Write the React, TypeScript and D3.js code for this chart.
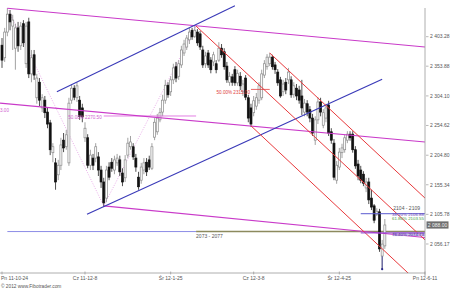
import React from "react";
import * as d3 from "d3";

// Daily OHLC, one entry per session
const opens = [2389,2368,2411,2441,2421,2384,2418,2388,2425,2358,2428,2341,2373,2301,2327,2284,2297,2277,2259,2209,2192,2172,2188,2230,2219,2192,2297,2317,2301,2297,2284,2234,2234,2188,2200,2200,2202,2180,2160,2133,2185,2193,2180,2192,2197,2175,2167,2205,2219,2219,2200,2168,2163,2180,2193,2197,2183,2235,2244,2264,2277,2297,2322,2311,2331,2353,2337,2356,2376,2386,2398,2414,2404,2411,2408,2381,2358,2376,2364,2361,2358,2364,2384,2378,2354,2327,2336,2348,2326,2337,2311,2334,2301,2284,2276,2287,2297,2301,2339,2353,2358,2369,2356,2344,2331,2311,2327,2331,2331,2307,2317,2314,2304,2277,2291,2281,2267,2230,2264,2294,2255,2267,2289,2244,2225,2163,2185,2209,2214,2230,2240,2240,2214,2190,2180,2173,2150,2160,2133,2120,2106,2110,2036,2053];
const highs = [2401,2418,2451,2448,2440,2425,2428,2428,2431,2428,2435,2381,2381,2341,2334,2307,2304,2284,2264,2225,2200,2197,2234,2242,2247,2301,2324,2322,2327,2304,2291,2260,2240,2214,2207,2225,2210,2187,2167,2187,2193,2200,2204,2207,2204,2183,2205,2234,2237,2225,2207,2177,2192,2200,2200,2204,2225,2267,2274,2284,2306,2331,2327,2337,2358,2361,2364,2388,2398,2406,2418,2418,2421,2416,2413,2388,2378,2381,2369,2378,2364,2394,2391,2384,2361,2344,2341,2354,2348,2344,2331,2339,2306,2291,2304,2309,2327,2348,2364,2374,2376,2373,2361,2349,2336,2331,2334,2351,2337,2327,2324,2321,2331,2299,2297,2287,2274,2270,2302,2301,2282,2291,2296,2250,2232,2195,2217,2224,2239,2245,2245,2245,2220,2197,2187,2178,2167,2167,2147,2123,2116,2115,2063,2098];
const lows = [2351,2361,2404,2414,2381,2348,2378,2381,2386,2351,2334,2327,2331,2291,2287,2277,2267,2250,2205,2193,2147,2163,2180,2210,2214,2187,2291,2297,2294,2264,2260,2227,2183,2180,2180,2193,2170,2150,2118,2126,2163,2177,2173,2187,2170,2153,2160,2200,2214,2197,2177,2147,2157,2173,2170,2180,2180,2230,2239,2260,2270,2291,2301,2304,2324,2327,2331,2351,2371,2381,2391,2398,2401,2388,2381,2351,2351,2351,2342,2354,2342,2361,2368,2348,2326,2321,2321,2321,2321,2314,2304,2297,2260,2252,2270,2281,2291,2297,2334,2348,2354,2348,2341,2321,2301,2304,2307,2324,2301,2301,2297,2291,2272,2270,2270,2260,2237,2222,2257,2270,2250,2260,2237,2224,2163,2157,2180,2200,2209,2225,2229,2209,2182,2163,2158,2153,2143,2123,2113,2091,2103,2043,2014,2048];
const closes = [2364,2411,2441,2428,2431,2418,2388,2421,2393,2421,2341,2368,2339,2334,2297,2301,2276,2257,2214,2219,2160,2188,2222,2217,2239,2292,2317,2302,2321,2270,2269,2250,2188,2205,2188,2219,2180,2160,2125,2180,2168,2183,2197,2200,2177,2160,2197,2225,2227,2202,2185,2152,2185,2192,2177,2185,2219,2260,2267,2276,2297,2322,2306,2331,2351,2334,2358,2381,2391,2401,2411,2403,2414,2393,2386,2356,2371,2356,2348,2373,2348,2384,2373,2353,2331,2337,2327,2326,2342,2321,2324,2302,2267,2257,2296,2301,2321,2341,2358,2369,2369,2353,2348,2326,2304,2324,2314,2344,2306,2321,2304,2297,2284,2292,2277,2267,2242,2264,2294,2277,2276,2284,2242,2230,2168,2188,2210,2217,2234,2240,2234,2214,2187,2170,2163,2158,2160,2130,2118,2096,2111,2048,2056,2088];

// Time axis: session index of each date label
const xTickIdx = [0, 31, 63, 94, 126, 158];
const xTickLabels = ["Pn 11-10-24", "Cz 11-12-8", "Śr 12-1-25", "Cz 12-3-8", "Śr 12-4-25", "Pn 12-6-11"];

// Price axis levels
const yTickValues = [2403.28, 2353.88, 2304.1, 2254.62, 2204.8, 2155.34, 2105.78, 2056.17];
const lastPrice = 2088.0;

// Trend lines as [session index, price] anchor pairs
const magentaLines: [number, number][][] = [
  [[2, 2451], [158, 2386]],
  [[-0.75, 2292], [158, 2227]],
  [[38, 2120], [158, 2067]],
];
const blueLines: [number, number][][] = [
  [[20.5, 2311], [87, 2455]],
  [[31.75, 2106], [142, 2332]],
];
const redLines: [number, number][][] = [
  [[100, 2376], [158, 2133]],
  [[72.5, 2421], [158, 2063]],
  [[93, 2254], [158, 1981]],
];
const zigzag: [number, number][] = [[2, 2451], [38, 2120], [72.5, 2421]];

// Fibonacci retracements: [from index, to index, level price, label]
const pinkFib = { from: 38, to: 72.5, price: 2270.5, label: "50.00% 2270.50" };
const redFib = { from: 93, to: 100, price: 2315.0, label: "50.00% 2315.00" };

// Support/resistance zones
const lowerZone = { price: 2077, label: "2073 - 2077", start: 2, split: 72.5, end: 158 };
const upperZone = { price: 2106.88, label: "2104 - 2109", start: 134, end: 158 };
const rightFibs = [
  { price: 2106.88, label: "38.20% 2106.88", color: "#6a3fb5" },
  { price: 2103.55, label: "61.80% 2103.55", color: "#3f9a3f" },
];
const lowFib = { price: 2074.73, label: "76.40% 2074.73", start: 134, end: 158 };
const leftFibLabel = "3.00";
const lowMarkIndex = 142;

const fmt = d3
  .formatLocale({ decimal: ".", thousands: " ", grouping: [3], currency: ["", ""] })
  .format(",.2f");

export default function App() {
  const W = 450;
  const H = 289;
  const right = 425;
  const bottom = 273;
  const x = d3.scaleLinear().domain([0, 158]).range([2, right]);
  const y = d3.scaleLinear().domain([2007.6, 2464.7]).range([bottom, 0]);
  const seg = (p: [number, number][]) => ({
    x1: x(p[0][0]),
    y1: y(p[0][1]),
    x2: x(p[1][0]),
    y2: y(p[1][1]),
  });
  const zig = d3
    .line<[number, number]>()
    .x((d) => x(d[0]))
    .y((d) => y(d[1]))(zigzag) as string;
  const bw = 2;
  const font = "'Liberation Sans', Arial, sans-serif";

  return (
    <svg
      width={W}
      height={H}
      style={{ position: "fixed", left: 0, top: 0, background: "#fff" }}
      fontFamily={font}
    >
      <defs>
        <clipPath id="plot">
          <rect x={0} y={0} width={right} height={bottom} />
        </clipPath>
      </defs>
      <rect x={0} y={0} width={W} height={H} fill="#fff" />
      <g clipPath="url(#plot)">
        {/* zones */}
        <line x1={x(lowerZone.start)} x2={x(lowerZone.split)} y1={y(lowerZone.price)} y2={y(lowerZone.price)} stroke="#7070e0" strokeWidth={0.8} />
        <line x1={x(lowerZone.split)} x2={x(lowerZone.end)} y1={y(lowerZone.price)} y2={y(lowerZone.price)} stroke="#8c8a5e" strokeWidth={1.6} />
        <path d={zig} fill="none" stroke="#e08ae0" strokeWidth={0.7} strokeDasharray="1,1.5" />

        {/* candles */}
        {closes.map((c, i) => {
          const o = opens[i];
          const down = c < o;
          const cx = x(i);
          const top = y(Math.max(o, c));
          const h = Math.max(0.8, y(Math.min(o, c)) - top);
          const mark = i === lowMarkIndex;
          return (
            <g key={i}>
              <line x1={cx} x2={cx} y1={y(highs[i])} y2={y(lows[i])} stroke={down ? "#222" : "#8a8a8a"} strokeWidth={0.8} />
              {mark && (
                <>
                  <line x1={cx} x2={cx} y1={y(Math.min(o, c))} y2={y(lows[i])} stroke="#2a2a8a" strokeWidth={0.8} />
                  <circle cx={cx} cy={y(lows[i])} r={1.1} fill="#2a2a8a" />
                </>
              )}
              <rect
                x={cx - bw / 2}
                y={top}
                width={bw}
                height={h}
                fill={down ? "#111" : "#fff"}
                stroke={down ? "#111" : "#8a8a8a"}
                strokeWidth={0.7}
              />
            </g>
          );
        })}

        {/* fib retracement levels */}
        <line x1={x(pinkFib.from)} x2={x(pinkFib.to)} y1={y(pinkFib.price)} y2={y(pinkFib.price)} stroke="#e070e0" strokeWidth={0.9} />
        <line x1={x(redFib.from)} x2={x(redFib.to)} y1={y(redFib.price)} y2={y(redFib.price)} stroke="#e04040" strokeWidth={0.8} />

        {/* trend lines */}
        {magentaLines.map((l, i) => (
          <line key={"m" + i} {...seg(l)} stroke="#c93ac9" strokeWidth={1.1} />
        ))}
        {blueLines.map((l, i) => (
          <line key={"b" + i} {...seg(l)} stroke="#3a3ab8" strokeWidth={1.1} />
        ))}
        {redLines.map((l, i) => (
          <line key={"r" + i} {...seg(l)} stroke="#e8393c" strokeWidth={1} />
        ))}

        {/* right-side levels */}
        <line x1={x(upperZone.start)} x2={x(upperZone.end)} y1={y(upperZone.price)} y2={y(upperZone.price)} stroke="#5a5ad0" strokeWidth={1} />
        <rect x={x(lowFib.start) + 32} y={y(lowFib.price) - 0.8} width={right - x(lowFib.start) - 32} height={4} fill="#b8a4e6" opacity={0.7} />
        <line x1={x(lowFib.start)} x2={x(lowFib.end)} y1={y(lowFib.price)} y2={y(lowFib.price)} stroke="#8a3ad0" strokeWidth={1} />
      </g>

      {/* labels inside plot */}
      <text x={x(pinkFib.from) - 2} y={y(pinkFib.price) + 3.5} fontSize={4.6} fill="#d060d0" textAnchor="end">{pinkFib.label}</text>
      <text x={x(redFib.from) - 1} y={y(redFib.price) + 4.5} fontSize={4.6} fill="#e04040" textAnchor="end">{redFib.label}</text>
      <text x={0} y={112} fontSize={4.6} fill="#d060d0">{leftFibLabel}</text>
      <text x={x(lowerZone.split)} y={y(lowerZone.price) + 6.5} fontSize={5} fill="#555">{lowerZone.label}</text>
      <text x={right - 5} y={y(upperZone.price) - 4} fontSize={5} fill="#555" textAnchor="end">{upperZone.label}</text>
      {rightFibs.map((f, i) => (
        <text key={"rf" + i} x={right - 1} y={y(upperZone.price) + 2.6 + i * 3.6} fontSize={4.4} fill={f.color} textAnchor="end">{f.label}</text>
      ))}
      <text x={right - 1} y={y(lowFib.price) + 3} fontSize={4.4} fill="#4a2a90" textAnchor="end">{lowFib.label}</text>

      {/* axes */}
      <line x1={0} x2={right} y1={bottom} y2={bottom} stroke="#9a9a9a" strokeWidth={0.8} />
      <line x1={right} x2={right} y1={8} y2={bottom + 3} stroke="#9a9a9a" strokeWidth={0.8} />
      {xTickIdx.map((t, i) => (
        <g key={"xt" + i}>
          <line x1={x(t)} x2={x(t)} y1={bottom - 1.5} y2={bottom + 1.5} stroke="#888" strokeWidth={0.6} />
          <text x={i === 0 ? 1 : x(t)} y={279.5} fontSize={5} fill="#555" textAnchor={i === 0 ? "start" : "middle"}>
            {xTickLabels[i]}
          </text>
        </g>
      ))}
      {yTickValues.map((v, i) => (
        <g key={"yt" + i}>
          <line x1={right + 1} x2={right + 3.5} y1={y(v)} y2={y(v)} stroke="#888" strokeWidth={0.6} />
          <text x={right + 5} y={y(v) + 1.8} fontSize={5} fill="#555">{fmt(v)}</text>
        </g>
      ))}
      <rect x={right + 1.5} y={y(lastPrice) - 3.6} width={22} height={7.2} fill="#6e6e6e" />
      <text x={right + 12.5} y={y(lastPrice) + 1.8} fontSize={5} fill="#f2f2f2" textAnchor="middle">{fmt(lastPrice)}</text>

      <text x={1} y={288} fontSize={4.8} fill="#555">© 2012 www.Fibotrader.com</text>
    </svg>
  );
}
